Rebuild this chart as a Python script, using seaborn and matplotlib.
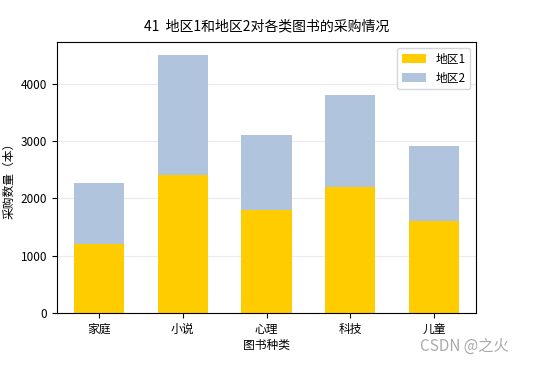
import pandas as pd
import matplotlib
matplotlib.use('Agg')
import matplotlib.pyplot as plt
import seaborn as sns

# data
categories = ['家庭', '小说', '心理', '科技', '儿童']
region1 = [1200, 2400, 1800, 2200, 1600]
region2 = [1060, 2100, 1300, 1600, 1320]

df = pd.DataFrame({'类别': categories, '地区1': region1, '地区2': region2})

plt.rcParams['font.family'] = ['Noto Sans CJK SC', 'DejaVu Sans']
plt.rcParams['axes.unicode_minus'] = False

fig = plt.figure(figsize=(5.49, 3.65), dpi=100)
ax = fig.add_axes([0.104, 0.142, 0.763, 0.743])

sns.barplot(data=df, x='类别', y='地区1', color='#FFCC00', width=0.6,
            saturation=1, label='地区1', ax=ax)
sns.barplot(data=df, x='类别', y='地区2', color='#B0C4DE', width=0.6,
            saturation=1, label='地区2', bottom=df['地区1'], ax=ax)

ax.set_title('41  地区1和地区2对各类图书的采购情况', fontsize=10, pad=8)
ax.set_xlabel('图书种类', fontsize=8.5, labelpad=2)
ax.set_ylabel('采购数量（本）', fontsize=8.5)
ax.tick_params(labelsize=8.5)
ax.set_ylim(0, 4725)
ax.grid(axis='y', alpha=0.25)
ax.set_axisbelow(True)
ax.legend(loc='upper right', fontsize=8.5)

fig.text(0.765, 0.04, 'CSDN @之火', fontsize=11, color='#aaaaaa')

fig.savefig('out.png', dpi=100)
